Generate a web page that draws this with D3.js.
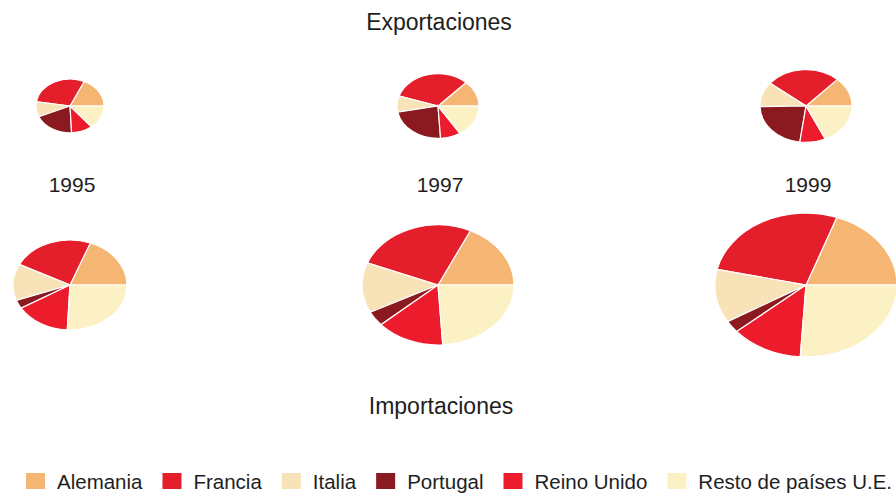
<!DOCTYPE html>
<html>
<head>
<meta charset="utf-8">
<script src="https://cdn.jsdelivr.net/npm/d3@7"></script>
<style>
  body { margin: 0; background: #fff; }
  svg text { font-family: "Liberation Sans", Arial, Helvetica, sans-serif; fill: #1e1e1e; }
</style>
</head>
<body>
<svg id="chart" width="896" height="494"></svg>
<script>
// data (shares in %, totals in relative units)
const years = ['1995', '1997', '1999'];
const countries = ['Alemania', 'Francia', 'Italia', 'Portugal', 'Reino Unido', 'Resto de países U.E.'];

const exp1995 = [18, 29, 9, 19, 10, 14];
const exp1997 = [13, 32, 8, 23, 8, 16];
const exp1999 = [13, 26, 11, 22.5, 9, 18];
const imp1995 = [19, 23, 13, 3, 15.5, 25.5];
const imp1997 = [18, 26, 13.5, 4, 14.5, 24];
const imp1999 = [19.5, 27, 12, 2.7, 12.8, 26];

const exportTotals = [11.6, 16.8, 21.2];
const importTotals = [32.5, 57.8, 83];

const palette = ['#f4b672', '#e41f2b', '#f8e2b8', '#8a1a20', '#ec1c2c', '#fcf1c4'];

const svg = d3.select('#chart');

const color = d3.scaleOrdinal().domain(countries).range(palette);
const xS = d3.scalePoint().domain(years).range([70, 806]);
const rS = d3.scaleSqrt().domain([0, d3.max(importTotals)]).range([0, 91]);
const squash = 0.79; // pies are drawn as flat ellipses

// slices go counter-clockwise from 3 o'clock
const pie = d3.pie().sort(null).value(d => d.v)
  .startAngle(Math.PI / 2).endAngle(Math.PI / 2 - 2 * Math.PI);
const arc = d3.arc().innerRadius(0).outerRadius(1);

const drawRow = (rows, totals, cy, cls) => {
    const g = svg.append('g').attr('class', cls);
    rows.forEach((vals, i) => {
        const rx = rS(totals[i]);
        const pg = g.append('g')
          .attr('transform', `translate(${xS(years[i])},${cy}) scale(${rx},${rx * squash})`);
        pg.selectAll('path').data(pie(vals.map((v, k) => ({name: countries[k], v}))))
          .join('path')
          .attr('d', arc)
          .attr('fill', d => color(d.data.name))
          .attr('stroke', '#fff')
          .attr('stroke-width', 1.2)
          .attr('vector-effect', 'non-scaling-stroke');
    });
};

drawRow([exp1995, exp1997, exp1999], exportTotals, 106, 'exports');
drawRow([imp1995, imp1997, imp1999], importTotals, 285, 'imports');

// titles
svg.append('text').attr('x', 439).attr('y', 30).attr('text-anchor', 'middle')
  .style('font-size', '23px').text('Exportaciones');
svg.append('text').attr('x', 441).attr('y', 414).attr('text-anchor', 'middle')
  .style('font-size', '23px').text('Importaciones');

// year labels
svg.selectAll('.year').data(years)
  .join('text')
  .attr('class', 'year')
  .attr('x', d => xS(d) + 2)
  .attr('y', 192)
  .attr('text-anchor', 'middle')
  .style('font-size', '21px')
  .text(d => d);

// legend, laid out left to right
const legend = svg.append('g').attr('class', 'legend');
let lx = 26;
countries.forEach(c => {
    const item = legend.append('g');
    item.append('rect').attr('x', lx).attr('y', 473).attr('width', 19).attr('height', 16)
      .attr('fill', color(c));
    const t = item.append('text').attr('x', lx + 31).attr('y', 489)
      .style('font-size', '20.5px').text(c);
    lx += 31 + t.node().getComputedTextLength() + 20;
});
</script>
</body>
</html>
